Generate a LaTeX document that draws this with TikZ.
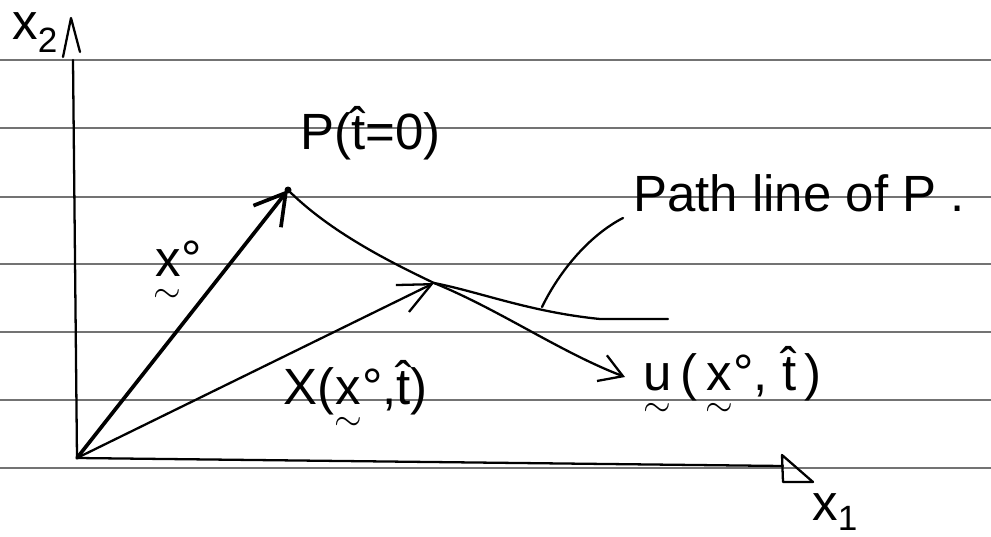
\RequirePackage{fix-cm}
\documentclass[tikz,border=0pt]{standalone}
\usepackage{amsmath}
\usepackage{fontspec}
\setmainfont{Liberation Sans}
\usetikzlibrary{arrows.meta}
\newcommand\utl[1]{\ensuremath{\underset{\sim}{\text{#1}}}}
\tikzset{
  ruled/.style={black!55, line width=0.9pt},
  ink/.style={black, line width=1.3pt, line cap=round, line join=round},
  heavy/.style={black, line width=2.1pt, line cap=round, line join=round},
  lbl/.style={inner sep=0pt, anchor=base west},
}
\begin{document}
\begin{tikzpicture}[x=0.02cm, y=-0.02cm, font=\fontsize{29}{34}\selectfont]
\useasboundingbox (0,0) rectangle (991,537);
\fill[white] (0,0) rectangle (991,537);
% ruled paper
\foreach \yy in {60,128,197,264,332,400,468}
  \draw[ruled] (0,\yy) -- (991,\yy);
% key points
\coordinate (O) at (77,458);
\coordinate (P) at (288,190);
\coordinate (X) at (434,283);
\coordinate (U) at (625,377);
\coordinate (Yt) at (73,60);
\coordinate (Xe) at (783,466);
\coordinate (pe) at (668,319);
\coordinate (ls) at (623,218);
\coordinate (le) at (542,307);
% axes
\draw[ink] (O) -- (Yt);
\draw[ink] (Yt) ++(-10,-3) -- ++(8,-39) -- ++(9,34);
\draw[ink] (O) -- (Xe);
\draw[ink] (Xe) ++(-1,-11) -- ++(1,27) -- ++(30,0) -- cycle;
% position vectors
\draw[heavy, -{Straight Barb[length=0.6cm,width=0.7cm]}] (O) -- (P);
\fill (P) circle (0.07cm);
\draw[ink, -{Straight Barb[length=0.65cm,width=0.6cm]}] (O) -- (X);
% path line
\draw[ink] (P) .. controls (330,232) and (390,262) .. (X)
  .. controls (480,292) and (530,312) .. (600,319) -- (pe);
% velocity
\draw[ink, -{Straight Barb[length=0.45cm,width=0.55cm]}] (X) .. controls (500,310) and (560,352) .. (U);
% leader
\draw[ink] (ls) .. controls (590,235) and (560,270) .. (le);
% labels
\node[lbl] (lx2) at (12,40) {x\raisebox{-0.26cm}{\fontsize{20}{20}\selectfont 2}};
\node[lbl] (lx1) at (812,520) {x\raisebox{-0.22cm}{\fontsize{20}{20}\selectfont 1}};
\node[lbl] (lP) at (300,150) {P(\^t=0)};
\node[lbl] (lpath) at (633,212) {Path line of P .};
\node[inner sep=0pt] (lx0) at (178,274) {\utl{x}°};
\node[lbl] (lXX) at (283,404) {X(\utl{x}°,\^t)};
\node[lbl] (lu) at (643,390) {\utl{u}\,(\,\utl{x}°, \^t\,)};
\end{tikzpicture}
\end{document}
